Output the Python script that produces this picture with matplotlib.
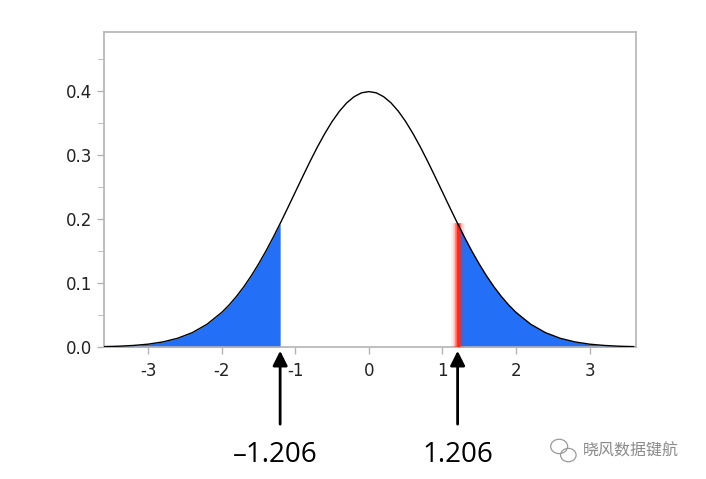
import numpy as np
import matplotlib.pyplot as plt
from matplotlib.patches import Ellipse

# right half of the curve (standard normal density);
# the left half is its mirror image
x_half = [0.0, 0.1, 0.2, 0.3, 0.4, 0.5, 0.6, 0.7, 0.8, 0.9, 1.0, 1.1, 1.2, 1.206,
          1.3, 1.4, 1.5, 1.6, 1.7, 1.8, 1.9, 2.0, 2.2, 2.4, 2.6, 2.8, 3.0, 3.2,
          3.4, 3.6]
y_half = [0.3989, 0.3970, 0.3910, 0.3814, 0.3683, 0.3521, 0.3332, 0.3123, 0.2897,
          0.2661, 0.2420, 0.2179, 0.1942, 0.1929, 0.1714, 0.1497, 0.1295, 0.1109,
          0.0940, 0.0790, 0.0656, 0.0540, 0.0355, 0.0224, 0.0136, 0.0079, 0.0044,
          0.0024, 0.0012, 0.0006]
cut_lo, cut_hi = -1.206, 1.206
cut_labels = ["\u20131.206", "1.206"]
x_ticks = [-3, -2, -1, 0, 1, 2, 3]
y_ticks = [0.0, 0.1, 0.2, 0.3, 0.4]
watermark = "晓风数据键航"

BLUE = '#2370f7'
GREY = '#b4b4b4'

x = np.array([-v for v in x_half[:0:-1]] + x_half)
y = np.array(y_half[:0:-1] + y_half)

fig = plt.figure(figsize=(7.06, 4.79), dpi=100)
ax = fig.add_axes([0.1473, 0.2756, 0.7535, 0.6576])

# shaded tails
ax.fill_between(x, 0, y, where=(x <= cut_lo + 1e-9), color=BLUE, lw=0)
ax.fill_between(x, 0, y, where=(x >= cut_hi - 1e-9), color=BLUE, lw=0)

# red glowing marker at the upper cut
y_cut = y_half[x_half.index(cut_hi)]
for w, a in [(10, 0.07), (8, 0.1), (6, 0.16), (4, 0.45), (2.4, 1.0)]:
    ax.plot([cut_hi, cut_hi], [0, y_cut], color='#ff2a1a', lw=w, alpha=a,
            solid_capstyle='butt', zorder=3)

ax.plot(x, y, color='black', lw=1.0, zorder=4)

ax.set_xlim(-3.6, 3.63)
ax.set_ylim(0, 0.492)
ax.set_xticks(x_ticks)
ax.set_xticklabels([str(t) for t in x_ticks])
ax.set_yticks(y_ticks)
ax.set_yticklabels(["%.1f" % t for t in y_ticks])
ax.set_yticks(np.arange(0.05, 0.49, 0.1), minor=True)
ax.tick_params(axis='both', colors=GREY, labelcolor='#222222', labelsize=12,
               length=5, width=1)
ax.tick_params(axis='y', which='minor', colors=GREY, length=4)
ax.tick_params(axis='x', pad=6)
for s in ax.spines.values():
    s.set_color(GREY)
    s.set_linewidth(1.2)

# arrows and cut labels under the axis
for xc, lab, dx in zip([cut_lo, cut_hi], cut_labels, [-0.06, 0.0]):
    ax.annotate('', xy=(xc, -0.012), xycoords=('data', 'axes fraction'),
                xytext=(xc, -0.245), textcoords=('data', 'axes fraction'),
                arrowprops=dict(arrowstyle='-|>', color='black', lw=2,
                                mutation_scale=22, shrinkA=0, shrinkB=0))
    ax.text(xc + dx, -0.30, lab, transform=ax.get_xaxis_transform(), ha='center',
            va='top', fontsize=20, family='Open Sans', color='black')

# watermark
fig.text(0.826, 0.058, watermark, fontsize=11.5, color='#8a8a8a',
         family=['Noto Sans CJK SC', 'DejaVu Sans'], ha='left', va='center')
fig.add_artist(Ellipse((0.792, 0.068), 0.024, 0.030, transform=fig.transFigure,
                       fill=False, ec='#9a9a9a', lw=0.9))
fig.add_artist(Ellipse((0.805, 0.050), 0.022, 0.028, transform=fig.transFigure,
                       fill=False, ec='#9a9a9a', lw=0.9, facecolor='white'))

fig.savefig('out.png', dpi=100)
